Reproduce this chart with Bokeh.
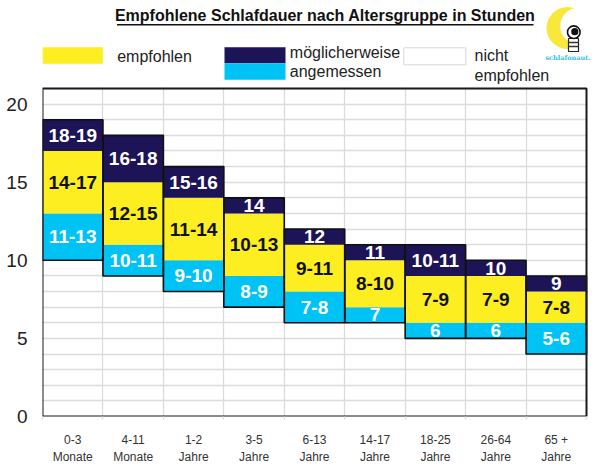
from bokeh.plotting import figure
from bokeh.models import Range1d, FixedTicker, ColumnDataSource, LinearAxis, Grid
from bokeh.embed import file_html
from bokeh.resources import INLINE
from bokeh.core.properties import value

# ---- data ----
categories = ["0-3\nMonate", "4-11\nMonate", "1-2\nJahre", "3-5\nJahre", "6-13\nJahre",
              "14-17\nJahre", "18-25\nJahre", "26-64\nJahre", "65 +\nJahre"]
low = [10, 9, 8, 7, 6, 6, 5, 5, 4]             # lower bound "möglicherweise angemessen"
rec_low = [13, 11, 10, 9, 8, 7, 6, 6, 6]       # lower bound "empfohlen"
rec_high = [17, 15, 14, 13, 11, 10, 9, 9, 8]   # upper bound "empfohlen"
high = [19, 18, 16, 14, 12, 11, 11, 10, 9]     # upper bound "möglicherweise angemessen"
cyan_labels = ["11-13", "10-11", "9-10", "8-9", "7-8", "7", "6", "6", "5-6"]
yellow_labels = ["14-17", "12-15", "11-14", "10-13", "9-11", "8-10", "7-9", "7-9", "7-8"]
navy_labels = ["18-19", "16-18", "15-16", "14", "12", "11", "10-11", "10", "9"]
y_ticks = [0, 5, 10, 15, 20]
y_max = 21

YELLOW = "#fcee21"
NAVY = "#1d1457"
CYAN = "#00c3f5"
FONT = value("Liberation Sans")

W, H = 602, 468
LEFT, BOTTOM = 42, 52          # frame: x 42..602, y 0..416 (page pixels)
CHART_W, CHART_H = 544, 328    # chart box inside the frame

n = len(categories)
xc = [i + 0.5 for i in range(n)]
src = ColumnDataSource(dict(
    x=xc, low=low, rec_low=rec_low, rec_high=rec_high, high=high,
    cy=[(a + b) / 2 for a, b in zip(low, rec_low)],
    yy=[(a + b) / 2 for a, b in zip(rec_low, rec_high)],
    ny=[(a + b) / 2 for a, b in zip(rec_high, high)],
    cl=cyan_labels, yl=yellow_labels, nl=navy_labels,
))

frame_w, frame_h = W - LEFT, H - BOTTOM
p = figure(width=W, height=H, title=None,
           x_range=Range1d(LEFT, W), y_range=Range1d(frame_h, 0),   # page coords for header
           output_backend="svg", toolbar_location=None,
           x_axis_location=None, y_axis_location=None,
           min_border_left=LEFT, min_border_right=0, min_border_top=0, min_border_bottom=BOTTOM)
p.grid.visible = False
p.outline_line_color = None
p.background_fill_color = "white"
p.border_fill_color = "white"

p.extra_x_ranges = {"cat": Range1d(0, n * frame_w / CHART_W)}
p.extra_y_ranges = {"hours": Range1d(0, y_max * frame_h / CHART_H)}

# axes
yax = LinearAxis(y_range_name="hours", ticker=FixedTicker(ticks=y_ticks))
yax.axis_line_color = None
yax.major_tick_line_color = None
yax.minor_tick_line_color = None
yax.major_tick_out = 0
yax.major_tick_in = 0
yax.major_label_standoff = 15
yax.major_label_text_font = "Liberation Sans"
yax.major_label_text_font_size = "19px"
yax.major_label_text_color = "#222"
p.add_layout(yax, "left")

xax = LinearAxis(x_range_name="cat",
                 ticker=FixedTicker(ticks=xc, minor_ticks=list(range(0, n + 1))))
xax.major_label_overrides = {x: c for x, c in zip(xc, categories)}
xax.axis_line_color = None
xax.major_tick_line_color = None
xax.major_tick_out = 0
xax.major_tick_in = 0
xax.minor_tick_line_color = "#dcdcdc"
xax.minor_tick_line_width = 1.3
xax.minor_tick_out = 3
xax.minor_tick_in = 0
xax.major_label_standoff = 13
xax.major_label_text_font = "Liberation Sans"
xax.major_label_text_font_size = "12px"
xax.major_label_text_color = "#333"
xax.major_label_text_line_height = 1.25
p.add_layout(xax, "below")

# grids
hg = Grid(dimension=1, y_range_name="hours", x_range_name="cat",
          ticker=FixedTicker(ticks=list(range(0, y_max + 1))),
          grid_line_color="#dcdcdc", grid_line_width=1.3)
vg = Grid(dimension=0, x_range_name="cat", y_range_name="hours",
          ticker=FixedTicker(ticks=list(range(1, n))),
          grid_line_color="#dcdcdc", grid_line_width=1.3)
p.add_layout(hg)
p.add_layout(vg)

# white masks so grid lines stay inside the chart box
top_edge = frame_h - CHART_H
p.quad(left=[LEFT], right=[W], top=[0], bottom=[top_edge - 1], fill_color="white", line_color=None)
p.quad(left=[LEFT + CHART_W + 1], right=[W], top=[top_edge - 1], bottom=[frame_h],
       fill_color="white", line_color=None)

# bars
p.vbar(x="x", width=1, bottom="low", top="rec_low", source=src, fill_color=CYAN, line_color=None,
       x_range_name="cat", y_range_name="hours")
p.vbar(x="x", width=1, bottom="rec_low", top="rec_high", source=src, fill_color=YELLOW, line_color=None,
       x_range_name="cat", y_range_name="hours")
p.vbar(x="x", width=1, bottom="rec_high", top="high", source=src, fill_color=NAVY, line_color=None,
       x_range_name="cat", y_range_name="hours")
p.vbar(x="x", width=1, bottom="low", top="high", source=src, fill_color=None,
       line_color="#111", line_width=1.6, x_range_name="cat", y_range_name="hours")

# chart box
p.quad(left=[0], right=[n], bottom=[0], top=[y_max], fill_color=None, line_color="#1a1a1a",
       line_width=2, x_range_name="cat", y_range_name="hours")

lbl = dict(source=src, x="x", text_font=FONT, text_font_style="bold", text_font_size="19px",
           text_align="center", text_baseline="middle", x_range_name="cat", y_range_name="hours")
p.text(y="cy", text="cl", text_color="white", **lbl)
p.text(y="yy", text="yl", text_color="#111", **lbl)
p.text(y="ny", text="nl", text_color="white", **lbl)

# ---- header (page pixel coordinates) ----
p.text(x=[324.7], y=[14.5], text=["Empfohlene Schlafdauer nach Altersgruppe in Stunden"],
       text_font=FONT, text_font_style="bold", text_font_size="16px",
       text_align="center", text_baseline="alphabetic", text_color="#111")
p.segment(x0=[116.5], y0=[24.2], x1=[533], y1=[24.2], line_color="#111", line_width=1.5)

p.quad(left=[42], right=[102.3], top=[46.7], bottom=[63.3], fill_color=YELLOW, line_color=None)
p.quad(left=[224], right=[285], top=[46.7], bottom=[62.7], fill_color=NAVY, line_color=None)
p.quad(left=[224], right=[285], top=[62.7], bottom=[79.3], fill_color=CYAN, line_color=None)
p.quad(left=[403.3], right=[465.3], top=[47.3], bottom=[64.3], fill_color="white",
       line_color="#d8d8d8", line_width=1)
p.text(x=[116.7], y=[55.5], text=["empfohlen"], text_font=FONT, text_font_size="16px",
       text_baseline="alphabetic", text_color="#222")
p.text(x=[289.3, 289.3], y=[51.5, 71.0], text=["möglicherweise", "angemessen"], text_font=FONT,
       text_font_size="16px", text_baseline="alphabetic", text_color="#222")
p.text(x=[474, 474], y=[55.3, 74.5], text=["nicht", "empfohlen"], text_font=FONT,
       text_font_size="16px", text_baseline="alphabetic", text_color="#222")

# logo: crescent moon with a little astronaut
p.circle(x=[567], y=[27.5], radius=21, fill_color="#f8e83c", line_color=None)
p.circle(x=[578], y=[25.5], radius=18.3, fill_color="white", line_color=None)
p.quad(left=[568], right=[578], top=[38], bottom=[51], fill_color="white", line_color="#222", line_width=1.2)
p.segment(x0=[568, 568], y0=[42, 46], x1=[578, 578], y1=[42, 46], line_color="#333", line_width=1.5)
p.circle(x=[573.3], y=[31.7], radius=6.3, fill_color="white", line_color="#111", line_width=1.6)
p.circle(x=[574.3], y=[31.2], radius=3.6, fill_color="#111", line_color=None)
p.text(x=[567.5], y=[57.5], text=["schlafonaut."], text_font=value("DejaVu Serif"),
       text_font_style="bold", text_font_size="6.5px", text_align="center",
       text_baseline="alphabetic", text_color="#39bfd6")

open("out.html", "w").write(file_html(p, INLINE))
